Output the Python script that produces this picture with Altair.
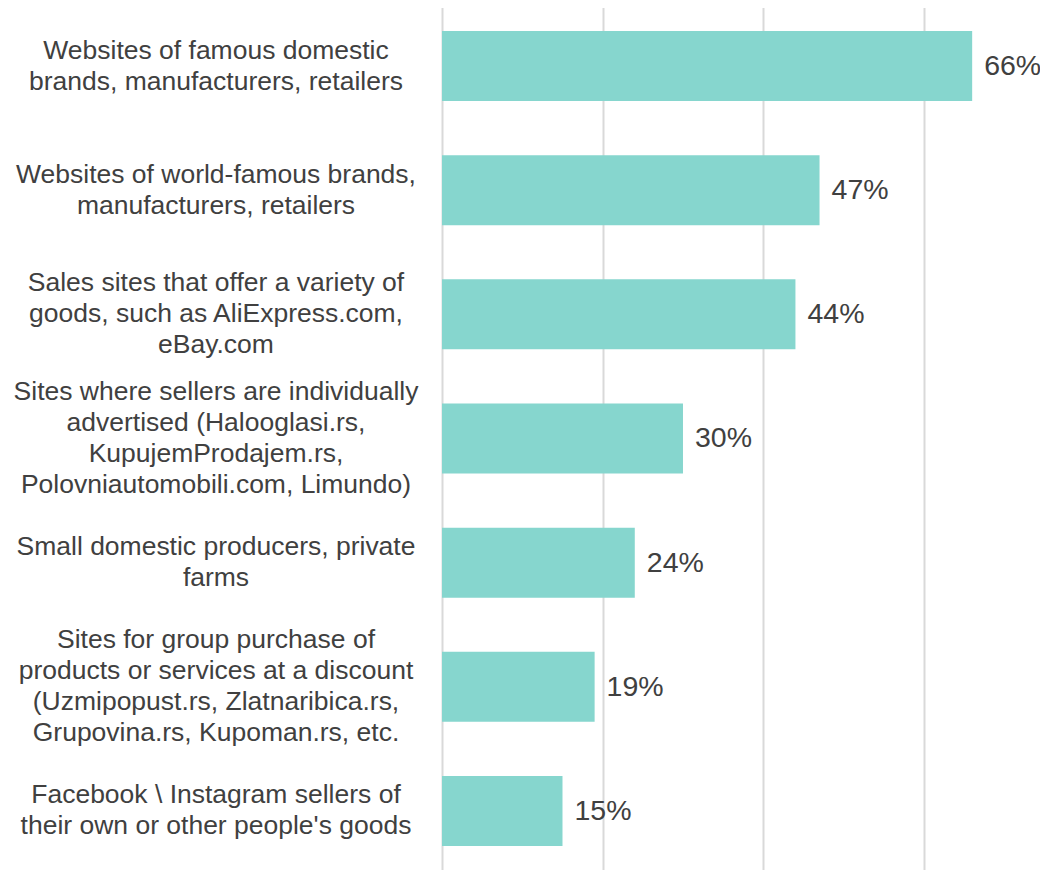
import altair as alt
import pandas as pd

categories = [
    "Websites of famous domestic\nbrands, manufacturers, retailers",
    "Websites of world-famous brands,\nmanufacturers, retailers",
    "Sales sites that offer a variety of\ngoods, such as AliExpress.com,\neBay.com",
    "Sites where sellers are individually\nadvertised (Halooglasi.rs,\nKupujemProdajem.rs,\nPolovniautomobili.com, Limundo)",
    "Small domestic producers, private\nfarms",
    "Sites for group purchase of\nproducts or services at a discount\n(Uzmipopust.rs, Zlatnaribica.rs,\nGrupovina.rs, Kupoman.rs, etc.",
    "Facebook \\ Instagram sellers of\ntheir own or other people's goods",
]
values = [66, 47, 44, 30, 24, 19, 15]
labels = [f"{v}%" for v in values]

df = pd.DataFrame({"category": categories, "value": values, "label": labels})

H = 869
W = 562.3
BAR = 70
LH = 31
n = len(categories)
step = H / n
p_inner = 1 - BAR / step

y_enc = alt.Y(
    "category:N",
    sort=categories,
    axis=None,
    scale=alt.Scale(paddingInner=p_inner, paddingOuter=p_inner / 2),
)
x_scale = alt.Scale(domain=[0, 70], nice=False)

bars = alt.Chart(df).mark_bar(color="#86D6CE").encode(
    x=alt.X(
        "value:Q",
        scale=x_scale,
        axis=alt.Axis(
            values=[0, 20, 40, 60],
            labels=False,
            ticks=False,
            domain=False,
            title=None,
            grid=True,
            gridColor="#D9D9D9",
            gridWidth=2,
        ),
    ),
    y=y_enc,
)

vals = alt.Chart(df).mark_text(
    align="left", baseline="middle", dx=12, fontSize=28.5,
    font="Liberation Sans", color="#404040",
).encode(
    x=alt.X("value:Q", scale=x_scale),
    y=y_enc,
    text="label:N",
)

cats = alt.Chart(df).transform_calculate(
    off=f"{BAR / 2} - (length(split(datum.category, '\\n')) - 1) * {LH} / 2"
).mark_text(
    align="center", baseline="middle", fontSize=26.5, lineHeight=LH,
    lineBreak="\n", font="Liberation Sans", color="#404040",
).encode(
    x=alt.value(-226),
    y=y_enc,
    yOffset=alt.YOffset("off:Q", scale=None),
    text="category:N",
)

chart = alt.layer(bars, vals, cats).properties(
    width=W,
    height=H,
    autosize=alt.AutoSizeParams(type="none"),
    padding={"left": 434, "top": -4, "right": 36, "bottom": 0},
).configure_view(stroke=None)

chart.save("out.html", embed_options={"renderer": "svg", "actions": False})
